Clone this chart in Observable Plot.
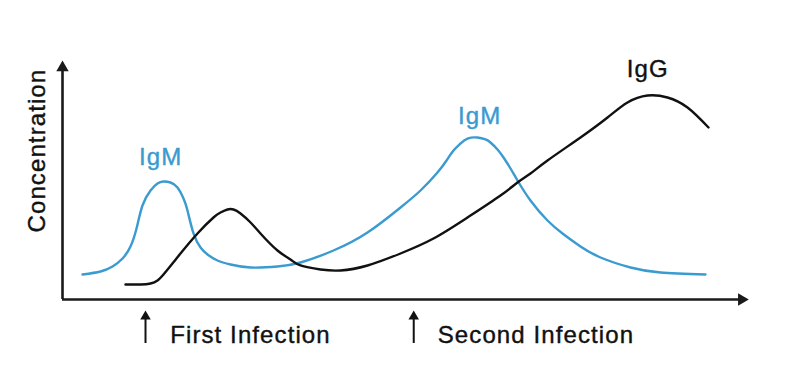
<!DOCTYPE html>
<html>
<head>
<meta charset="utf-8">
<script src="https://cdn.jsdelivr.net/npm/d3@7"></script>
<script src="https://cdn.jsdelivr.net/npm/@observablehq/plot@0.6"></script>
<style>
  html, body { margin: 0; padding: 0; background: #fff; }
</style>
</head>
<body>
<div id="chart"></div>
<script>
// Time (arbitrary units 0–100) and concentration (arbitrary units 0–100)
const igmTime = [2.92, 5.54, 7.29, 8.75, 9.91, 10.79, 11.66, 12.83, 13.85, 14.72, 15.74, 16.76, 17.64, 18.22, 19.10, 20.12, 21.14, 22.59, 24.49, 27.41, 31.34, 34.69, 39.50, 44.46, 49.27, 52.19, 54.66, 55.98, 57.00, 58.02, 59.04, 60.50, 61.66, 62.39, 63.41, 64.29, 65.31, 66.33, 68.22, 70.70, 72.89, 75.51, 78.43, 82.80, 87.17, 93.73];
const igmConc = [10.46, 11.72, 13.81, 17.15, 22.18, 29.71, 39.33, 45.61, 48.54, 49.37, 48.95, 46.86, 42.26, 37.24, 27.62, 21.76, 18.83, 16.32, 14.64, 13.39, 13.81, 15.48, 20.50, 28.03, 38.49, 45.61, 53.14, 58.16, 62.34, 65.27, 67.36, 67.78, 66.95, 65.69, 62.76, 59.41, 54.81, 49.79, 41.42, 33.05, 27.62, 22.18, 17.57, 13.39, 11.30, 10.46];

const iggTime = [9.18, 11.37, 12.83, 13.85, 14.72, 16.03, 17.20, 19.68, 22.01, 23.03, 24.05, 24.93, 25.95, 27.41, 28.86, 31.34, 33.24, 34.69, 37.61, 40.52, 44.46, 49.27, 54.08, 59.04, 63.85, 66.33, 68.22, 70.70, 75.51, 79.45, 82.36, 85.28, 88.19, 91.11, 94.17];
const iggConc = [6.28, 6.28, 6.69, 7.95, 10.46, 15.06, 19.25, 27.62, 34.31, 36.40, 37.66, 37.66, 35.98, 32.22, 27.62, 20.50, 16.74, 14.23, 12.55, 12.13, 14.23, 19.25, 25.52, 34.31, 43.51, 48.95, 52.72, 58.16, 67.78, 76.15, 82.43, 85.36, 84.52, 80.33, 71.97];

// Curve labels
const curveLabels = ["IgM", "IgM", "IgG"];
const curveLabelTime = [14.3, 60.8, 85.3];
const curveLabelConc = [56.1, 73.6, 92.9];
const curveLabelColor = ["#3a9bd0", "#3a9bd0", "#111"];

// Infection events
const eventLabels = ["First Infection", "Second Infection"];
const eventTime = [12.1, 51.2];
const eventLabelTime = [15.7, 54.7];

const axisTitle = "Concentration";

const blue = "#3a9bd0";

const igm = igmTime.map((t, i) => ({t, c: igmConc[i]}));
const igg = iggTime.map((t, i) => ({t, c: iggConc[i]}));
const labels = curveLabels.map((s, i) => ({s, t: curveLabelTime[i], c: curveLabelConc[i], color: curveLabelColor[i]}));
const events = eventLabels.map((s, i) => ({s, t: eventTime[i], lt: eventLabelTime[i]}));

const plot = Plot.plot({
  width: 800,
  height: 383,
  marginLeft: 62,
  marginRight: 52,
  marginTop: 60,
  marginBottom: 84,
  x: {domain: [0, 100], axis: null},
  y: {domain: [0, 100], axis: null},
  style: {fontFamily: "'Liberation Sans', Arial, Helvetica, sans-serif", background: "#fff", letterSpacing: "1.1px"},
  marks: [
    // axes with arrowheads
    Plot.ruleX([0], {y1: 0, y2: 97, stroke: "#1a1a1a", strokeWidth: 2.6}),
    Plot.ruleY([0], {x1: 0, x2: 99, stroke: "#1a1a1a", strokeWidth: 2.6}),
    Plot.dot([{t: 0, c: 97}], {x: "t", y: "c", symbol: "triangle", r: 4.6, fill: "#1a1a1a", stroke: null}),
    Plot.dot([{t: 99, c: 0}], {x: "t", y: "c", symbol: "triangle", r: 4.6, rotate: 90, fill: "#1a1a1a", stroke: null}),
    // curves
    Plot.line(igm, {x: "t", y: "c", curve: "natural", stroke: blue, strokeWidth: 2.4}),
    Plot.line(igg, {x: "t", y: "c", curve: "natural", stroke: "#111", strokeWidth: 2.4}),
    // curve labels
    Plot.text(labels, {x: "t", y: "c", text: "s", fill: "color", stroke: "color", strokeWidth: 0.4, fontSize: 24, lineAnchor: "bottom", textAnchor: "middle"}),
    // infection arrows
    Plot.ruleX(events, {x: "t", y1: -18.4, y2: -7, stroke: "#111", strokeWidth: 2}),
    Plot.dot(events, {x: "t", y: () => -7.1, symbol: "triangle", r: 3.9, fill: "#111", stroke: null}),
    Plot.text(events, {x: "lt", y: () => -18.0, text: "s", fill: "#111", stroke: "#111", strokeWidth: 0.4, fontSize: 24, lineAnchor: "bottom", textAnchor: "start"}),
    // y axis title
    Plot.text([axisTitle], {x: -2.5, y: 62.3, text: d => d, rotate: -90, fill: "#111", stroke: "#111", strokeWidth: 0.4, fontSize: 24, lineAnchor: "bottom", textAnchor: "middle"})
  ]
});
document.getElementById("chart").appendChild(plot);
</script>
</body>
</html>
